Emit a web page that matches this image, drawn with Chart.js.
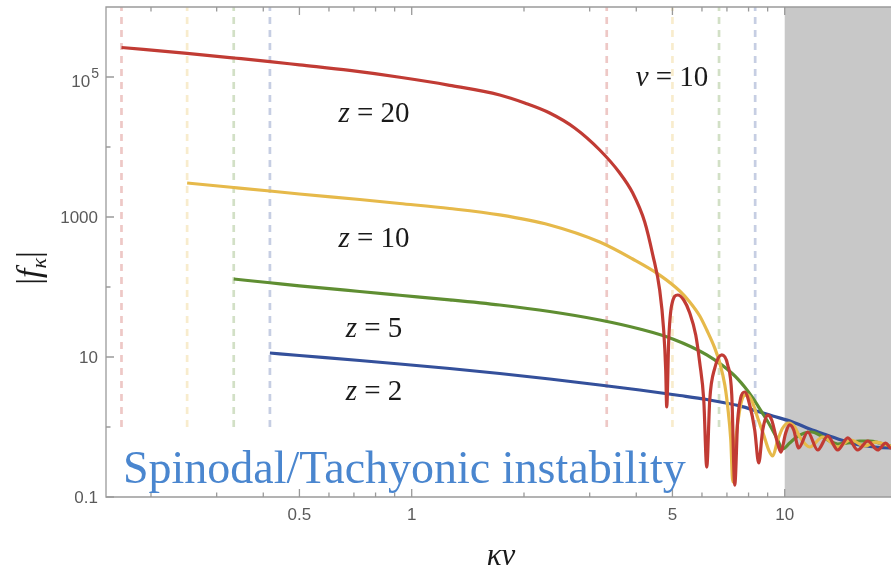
<!DOCTYPE html>
<html><head><meta charset="utf-8">
<script src="https://cdn.jsdelivr.net/npm/chart.js@4/dist/chart.umd.min.js"></script>
<style>html,body{margin:0;padding:0;background:#fff;overflow:hidden;}#wrap{width:897px;height:572px;}</style>
</head><body><div id="wrap"><canvas id="c" width="897" height="572"></canvas></div>
<script>
// ---- data ----
const redX = [0.1667,0.25,0.3333,0.4167,0.5,0.682,0.929,1.264,1.722,2.009,2.344,2.735,3.192,3.612,3.913,4.214,4.43,4.622,4.737,4.797,4.827,4.887,4.978,5.166,5.362,5.564,5.774,5.919,6.067,6.18,6.295,6.494,6.782,7.035,7.212,7.345,7.482,7.621,7.811,8.057,8.31,8.518,8.73,9.004,9.228,9.519,9.757,10.06,10.31,10.57,10.9,11.53,12.26,13.04,13.87,14.76,15.69,16.7,17.76,18.65,19.24,20];
const redY = [2.64e5,2.17e5,1.87e5,1.66e5,1.49e5,1.24e5,9.91e4,7.61e4,5.53e4,4.25e4,3.06e4,1.87e4,9060,4250,2200,849,286,90.6,24.3,6.52,1.93,17.5,55.3,76.9,65.2,42.5,20.6,8.21,2.43,0.268,2.43,6.96,10.7,7.69,2.87,0.148,1.26,2.6,3.16,2.06,0.906,0.306,0.906,1.48,1.26,0.652,0.439,0.821,1.07,0.906,0.501,0.849,0.469,0.744,0.469,0.697,0.469,0.631,0.469,0.591,0.501,0.52];
const yelX = [0.25,0.3333,0.4167,0.5,0.7255,0.929,1.264,1.722,2.344,3.192,3.913,4.622,5.231,5.564,5.919,6.18,6.494,6.698,6.909,7.035,7.168,7.257,7.39,7.574,7.764,7.957,8.208,8.466,8.784,9.06,9.286,9.577,9.877,10.25,10.64,10.97,11.67,12.65,13.87,15.03,16.39,17.54,19.24,20];
const yelY = [3060,2640,2350,2130,1778,1560,1322,1070,769,439,251,148,87.7,61.1,38.5,24.3,13.4,8.21,3.98,1.93,0.652,0.164,0.652,1.75,2.77,2.87,2.2,1.34,0.769,0.469,0.385,0.652,0.968,1.14,1.0,0.72,0.518,0.72,0.518,0.652,0.535,0.61,0.535,0.53];
const grnX = [0.3333,0.4167,0.5,0.7255,0.929,1.264,1.722,2.344,3.192,4.087,5.009,6.18,7.257,7.811,8.208,8.676,9.116,9.519,9.877,10.31,10.77,11.31,11.81,12.41,13.2,13.87,14.76,15.89,16.9,17.98,19.24,20];
const grnY = [130,115,104,86.2,76.3,65.6,55.3,44.7,33.8,25.1,18.1,10.7,5.72,3.73,2.6,1.64,1.07,0.697,0.485,0.591,0.72,0.821,0.849,0.769,0.631,0.572,0.591,0.631,0.631,0.591,0.535,0.52];
const bluX = [0.4167,0.5,0.7255,0.929,1.264,1.722,2.344,3.192,4.087,5.231,6.18,7.574,8.57,9.286,10.5,11.67,12.96,14.49,15.89,17.43,19.24,20];
const bluY = [11.4,10.5,8.91,7.94,6.85,5.81,4.85,3.98,3.38,2.82,2.47,2.0,1.64,1.44,1.18,0.936,0.769,0.631,0.553,0.518,0.501,0.5];
const seriesNames = ['z = 20','z = 10','z = 5','z = 2'];
const seriesColors = ['#c13b34','#e6b94a','#5f8e32','#34509b'];
const markerX = [[0.1667,3.333],[0.25,5],[0.3333,6.667],[0.4167,8.333]];
const markerYRange = [1, 1e6];
const shadeFrom = 10;
const xMajor = [0.5,1,5,10];
const xMajorLabels = ['0.5','1','5','10'];
const xMinor = [0.2,0.3,0.4,0.6,0.7,0.8,0.9,2,3,4,6,7,8,9];
const yMajor = [0.1,10,1000,1e5];
const yMajorLabels = ['0.1','10','1000','10^5'];
const yMinor = [1,100,1e4];

function pts(xs, ys){ return xs.map((x,i)=>({x:x,y:ys[i]})); }
function hexA(h,a){const r=parseInt(h.slice(1,3),16),g=parseInt(h.slice(3,5),16),b=parseInt(h.slice(5,7),16);return `rgba(${r},${g},${b},${a})`;}

const curveSets = [[redX,redY],[yelX,yelY],[grnX,grnY],[bluX,bluY]].map((s,i)=>({
  label: seriesNames[i], data: pts(s[0],s[1]), showLine:true, borderColor: seriesColors[i],
  borderWidth:3.2, pointRadius:0, cubicInterpolationMode:'monotone', fill:false
}));
const markerSets = [];
markerX.forEach((pair,i)=>pair.forEach(x=>markerSets.push({
  label:'m', data:[{x:x,y:markerYRange[0]},{x:x,y:markerYRange[1]}], showLine:true,
  borderColor: hexA(seriesColors[i],0.28), borderWidth:2.7, borderDash:[7,6], pointRadius:0
})));

const SERIF = "'Liberation Serif','DejaVu Serif',serif";
const SANS = "'Liberation Sans',Arial,sans-serif";
function drawParts(ctx, parts, x, y, size, align){
  let w=0; parts.forEach(p=>{ctx.font=(p.i?'italic ':'')+(p.s||size)+'px '+SERIF; p.w=ctx.measureText(p.t).width; w+=p.w;});
  let cx = align==='center'? x-w/2 : x;
  parts.forEach(p=>{ctx.font=(p.i?'italic ':'')+(p.s||size)+'px '+SERIF; ctx.fillText(p.t,cx,y+(p.dy||0)); cx+=p.w;});
}
const annotations = [
  {parts:[{t:'z',i:true},{t:' = 20'}], x:374, y:122},
  {parts:[{t:'z',i:true},{t:' = 10'}], x:374, y:247},
  {parts:[{t:'z',i:true},{t:' = 5'}], x:374, y:337},
  {parts:[{t:'z',i:true},{t:' = 2'}], x:374, y:400},
  {parts:[{t:'ν',i:true},{t:' = 10'}], x:672, y:86}
];

const deco = {
  id:'deco',
  beforeDatasetsDraw(chart){
    const {ctx, chartArea:ca, scales:{x}} = chart;
    ctx.save(); ctx.fillStyle='#c8c8c8';
    const x0 = x.getPixelForValue(shadeFrom);
    ctx.fillRect(x0, ca.top, ca.right-x0, ca.bottom-ca.top); ctx.restore();
  },
  afterDraw(chart){
    const {ctx, chartArea:ca, scales:{x,y}} = chart;
    ctx.save();
    ctx.strokeStyle='#9a9a9a'; ctx.lineWidth=1.3;
    ctx.beginPath();
    ctx.moveTo(ca.right, ca.top); ctx.lineTo(ca.left, ca.top); ctx.lineTo(ca.left, ca.bottom); ctx.lineTo(ca.right, ca.bottom);
    ctx.stroke();
    ctx.beginPath();
    xMajor.forEach(v=>{const p=x.getPixelForValue(v); ctx.moveTo(p,ca.bottom); ctx.lineTo(p,ca.bottom-8); ctx.moveTo(p,ca.top); ctx.lineTo(p,ca.top+8);});
    xMinor.forEach(v=>{const p=x.getPixelForValue(v); ctx.moveTo(p,ca.bottom); ctx.lineTo(p,ca.bottom-4.5); ctx.moveTo(p,ca.top); ctx.lineTo(p,ca.top+4.5);});
    yMajor.forEach(v=>{const p=y.getPixelForValue(v); ctx.moveTo(ca.left,p); ctx.lineTo(ca.left+8,p);});
    yMinor.forEach(v=>{const p=y.getPixelForValue(v); ctx.moveTo(ca.left,p); ctx.lineTo(ca.left+4.5,p);});
    ctx.stroke();
    ctx.fillStyle='#5a5a5a'; ctx.font='17px '+SANS; ctx.textAlign='center'; ctx.textBaseline='alphabetic';
    xMajor.forEach((v,i)=>ctx.fillText(xMajorLabels[i], x.getPixelForValue(v), ca.bottom+23));
    ctx.textAlign='right'; ctx.textBaseline='middle';
    yMajor.forEach((v,i)=>{
      const p=y.getPixelForValue(v); const lab=yMajorLabels[i];
      if(lab.indexOf('^')>=0){
        const [b,e]=lab.split('^');
        ctx.font='14px '+SANS; const ew=ctx.measureText(e).width;
        ctx.fillText(e, ca.left-7, p-3);
        ctx.font='17px '+SANS; ctx.fillText(b, ca.left-8-ew, p+5);
      } else { ctx.font='17px '+SANS; ctx.fillText(lab, ca.left-8, p+1); }
    });
    // annotations
    ctx.textAlign='left'; ctx.textBaseline='alphabetic'; ctx.fillStyle='#1a1a1a';
    annotations.forEach(a=>drawParts(ctx,a.parts,a.x,a.y,29,'center'));
    ctx.fillStyle='#4a86cf';
    drawParts(ctx,[{t:'Spinodal/Tachyonic instability'}],123,483,46,'left');
    // axis labels
    ctx.fillStyle='#1a1a1a';
    drawParts(ctx,[{t:'κν',i:true}],501,565,31,'center');
    ctx.translate(40,268); ctx.rotate(-Math.PI/2);
    drawParts(ctx,[{t:'|'},{t:'f',i:true},{t:'κ',i:true,s:22,dy:6},{t:'|'}],0,0,34,'center');
    ctx.restore();
  }
};

new Chart(document.getElementById('c'), {
  type:'scatter',
  data:{datasets: curveSets.concat(markerSets)},
  options:{
    responsive:false, animation:false,
    layout:{padding:{left:106,top:7,right:0,bottom:75}},
    plugins:{legend:{display:false}, tooltip:{enabled:false}},
    scales:{
      x:{type:'logarithmic', min:0.1515, max:20, display:false},
      y:{type:'logarithmic', min:0.1, max:1e6, display:false}
    }
  },
  plugins:[deco]
});
</script></body></html>
